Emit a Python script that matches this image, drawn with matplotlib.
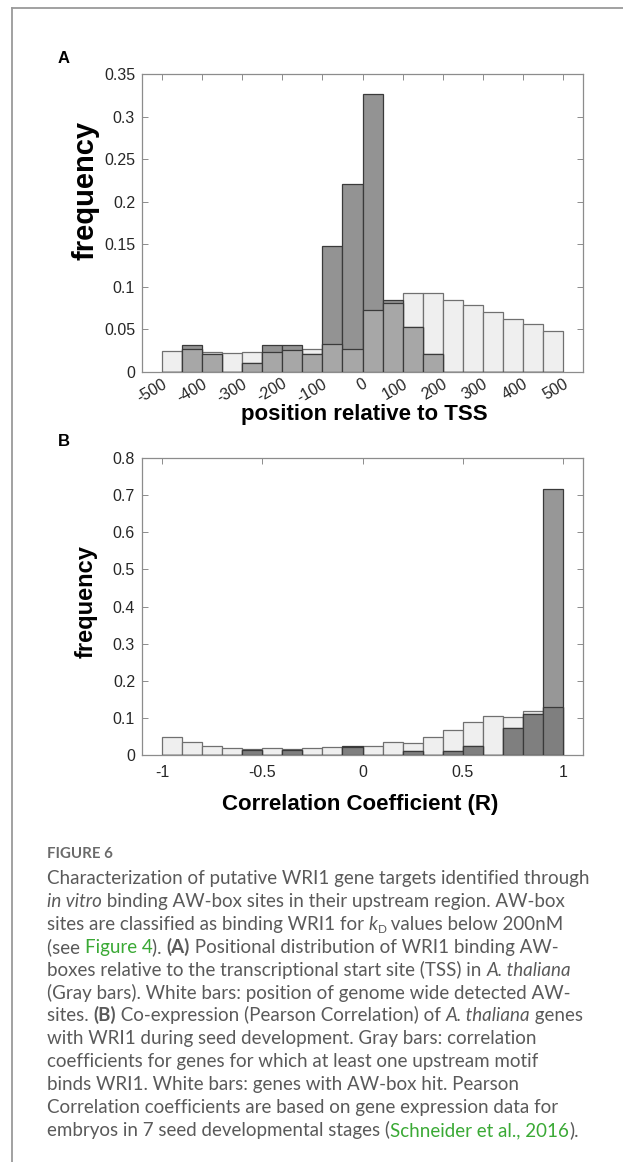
import matplotlib
matplotlib.use("Agg")
import matplotlib.pyplot as plt
import numpy as np

W, H = 623, 1162

# ---- data ----
pos_edges = np.arange(-500, 501, 50)
pos_genome = [0.0252, 0.0267, 0.0240, 0.0220, 0.0232, 0.0240, 0.0256, 0.0275,
              0.0326, 0.0275, 0.0731, 0.0814, 0.0928, 0.0932, 0.0842, 0.0790,
              0.0704, 0.0625, 0.0563, 0.0476]
pos_bound = [0.0, 0.0316, 0.0211, 0.0, 0.0105, 0.0316, 0.0316, 0.0211,
             0.1474, 0.2210, 0.3263, 0.0842, 0.0526, 0.0211, 0.0, 0.0,
             0.0, 0.0, 0.0, 0.0]
pos_xticks = list(range(-500, 501, 100))
pos_xticklabels = [str(v) for v in pos_xticks]
pos_yticks = [0, 0.05, 0.1, 0.15, 0.2, 0.25, 0.3, 0.35]
pos_yticklabels = ["0", "0.05", "0.1", "0.15", "0.2", "0.25", "0.3", "0.35"]

corr_edges = np.round(np.arange(-1.0, 1.01, 0.1), 2)
corr_hit = [0.0494, 0.0341, 0.0233, 0.0198, 0.0162, 0.0180, 0.0160, 0.0180,
            0.0207, 0.0220, 0.0233, 0.0360, 0.0314, 0.0485, 0.0664, 0.0889,
            0.1060, 0.1033, 0.1176, 0.1284]
corr_bound = [0.0, 0.0, 0.0, 0.0, 0.0130, 0.0, 0.0130, 0.0,
              0.0, 0.0242, 0.0, 0.0, 0.0108, 0.0, 0.0108, 0.0242,
              0.0, 0.0736, 0.1095, 0.7165]
corr_xticks = [-1, -0.5, 0, 0.5, 1]
corr_xticklabels = ["-1", "-0.5", "0", "0.5", "1"]
corr_yticks = [0, 0.1, 0.2, 0.3, 0.4, 0.5, 0.6, 0.7, 0.8]
corr_yticklabels = ["0", "0.1", "0.2", "0.3", "0.4", "0.5", "0.6", "0.7", "0.8"]

caption_lines = [
    [("Characterization of putative WRI1 gene targets identified through", "n")],
    [("in vitro", "i"), (" binding AW-box sites in their upstream region. AW-box", "n")],
    [("sites are classified as binding WRI1 for ", "n"), ("k", "i"), ("D", "sub"),
     (" values below 200nM", "n")],
    [("(see ", "n"), ("Figure 4", "g"), ("). ", "n"), ("(A)", "b"),
     (" Positional distribution of WRI1 binding AW-", "n")],
    [("boxes relative to the transcriptional start site (TSS) in ", "n"),
     ("A. thaliana", "i")],
    [("(Gray bars). White bars: position of genome wide detected AW-", "n")],
    [("sites. ", "n"), ("(B)", "b"), (" Co-expression (Pearson Correlation) of ", "n"),
     ("A. thaliana", "i"), (" genes", "n")],
    [("with WRI1 during seed development. Gray bars: correlation", "n")],
    [("coefficients for genes for which at least one upstream motif", "n")],
    [("binds WRI1. White bars: genes with AW-box hit. Pearson", "n")],
    [("Correlation coefficients are based on gene expression data for", "n")],
    [("embryos in 7 seed developmental stages (", "n"), ("Schneider et al., 2016", "g"),
     (").", "n")],
]

CHART_FONT = "Liberation Sans"
CAP_FONT = "Lato"
SPINE = "#8c8c8c"
TICKTXT = "#262626"


def fx(px):
    return px / W


def fy(py):
    return 1 - py / H


def add_axes(left, top, right, bottom):
    return fig.add_axes([fx(left), fy(bottom), fx(right) - fx(left),
                         (bottom - top) / H])


def style_axes(ax):
    for s in ax.spines.values():
        s.set_color(SPINE)
        s.set_linewidth(0.9)
    ax.tick_params(axis="both", which="major", direction="in", length=4,
                   width=0.7, color=SPINE, labelcolor=TICKTXT, labelsize=11.5,
                   top=True, right=True)
    for lab in ax.get_xticklabels() + ax.get_yticklabels():
        lab.set_family(CHART_FONT)


def add_hist(ax, edges, light, dark, dark_col, over_col):
    left = edges[:-1]
    width = np.diff(edges)
    light = np.asarray(light)
    dark = np.asarray(dark)
    ax.bar(left, light, width, align="edge", color="#efefef",
           edgecolor="#707070", linewidth=0.9, zorder=2)
    ax.bar(left, dark, width, align="edge", color=dark_col,
           edgecolor="#3a3a3a", linewidth=0.9, zorder=3)
    ax.bar(left, np.minimum(light, dark), width, align="edge", color=over_col,
           edgecolor="#3a3a3a", linewidth=0.9, zorder=4)


fig = plt.figure(figsize=(W / 100, H / 100), dpi=100)

# page frame (top and left rule)
fig.add_artist(plt.Line2D([fx(12), 1], [fy(8), fy(8)], color="#9a9a9a", lw=1.3))
fig.add_artist(plt.Line2D([fx(12), fx(12)], [fy(8), 0], color="#9a9a9a", lw=1.3))

# ---- panel A ----
axA = add_axes(142, 74, 583, 372)
add_hist(axA, pos_edges, pos_genome, pos_bound, "#939393", "#a7a7a7")
axA.set_xlim(-550, 550)
axA.set_ylim(0, 0.35)
axA.set_yticks(pos_yticks)
axA.set_yticklabels(pos_yticklabels)
axA.set_xticks(pos_xticks)
axA.set_xticklabels(pos_xticklabels, rotation=30, ha="right", va="top",
                    rotation_mode="anchor")
style_axes(axA)
axA.tick_params(axis="x", pad=3, labelsize=11.5)
axA.tick_params(axis="y", pad=5)

# ---- panel B ----
axB = add_axes(142, 458, 583, 755)
add_hist(axB, corr_edges, corr_hit, corr_bound, "#979797", "#7f7f7f")
axB.set_xlim(-1.1, 1.1)
axB.set_ylim(0, 0.8)
axB.set_yticks(corr_yticks)
axB.set_yticklabels(corr_yticklabels)
axB.set_xticks(corr_xticks)
axB.set_xticklabels(corr_xticklabels)
style_axes(axB)
axB.tick_params(axis="x", pad=7)
axB.tick_params(axis="y", pad=5)

# panel letters and axis titles
fig.text(fx(58), fy(63), "A", family=CHART_FONT, weight="bold", fontsize=12,
         va="baseline")
fig.text(fx(58), fy(446), "B", family=CHART_FONT, weight="bold", fontsize=12,
         va="baseline")
fig.text(fx(86), fy(190), "frequency", family=CHART_FONT, weight="bold",
         fontsize=21, rotation=90, ha="center", va="center")
fig.text(fx(86), fy(602), "frequency", family=CHART_FONT, weight="bold",
         fontsize=17, rotation=90, ha="center", va="center")
fig.text(fx(364), fy(420), "position relative to TSS", family=CHART_FONT,
         weight="bold", fontsize=16, ha="center", va="baseline")
fig.text(fx(360), fy(810), "Correlation Coefficient (R)", family=CHART_FONT,
         weight="bold", fontsize=16, ha="center", va="baseline")

# ---- caption ----
renderer = fig.canvas.get_renderer()
CAP_COLOR = "#5a5a5a"
LINK = "#3aa935"


def run_props(style, size):
    p = dict(family=CAP_FONT, fontsize=size, color=CAP_COLOR)
    if style == "i":
        p["style"] = "italic"
    elif style == "b":
        p["weight"] = "bold"
    elif style == "g":
        p["color"] = LINK
    elif style == "sub":
        p["fontsize"] = size * 0.62
    return p


def text_width(s, props):
    t = fig.text(0, 0, "|" + s + "|", **props)
    w1 = t.get_window_extent(renderer).width
    t.set_text("||")
    w0 = t.get_window_extent(renderer).width
    t.remove()
    return w1 - w0


base = run_props("n", 12)
cap_size = 12 * 541 / text_width(caption_lines[0][0][0], base)

fig.text(fx(47), fy(858), "FIGURE 6", family=CAP_FONT, weight="bold",
         fontsize=cap_size * 0.8, color="#6a6a6a", va="baseline")

y0, dy = 884, 22.9
for i, runs in enumerate(caption_lines):
    x = 47
    y = y0 + i * dy
    for s, st in runs:
        props = run_props(st, cap_size)
        yy = y + 3 if st == "sub" else y
        fig.text(fx(x), fy(yy), s, va="baseline", **props)
        x += text_width(s, props)

fig.savefig("out.png", dpi=100)
